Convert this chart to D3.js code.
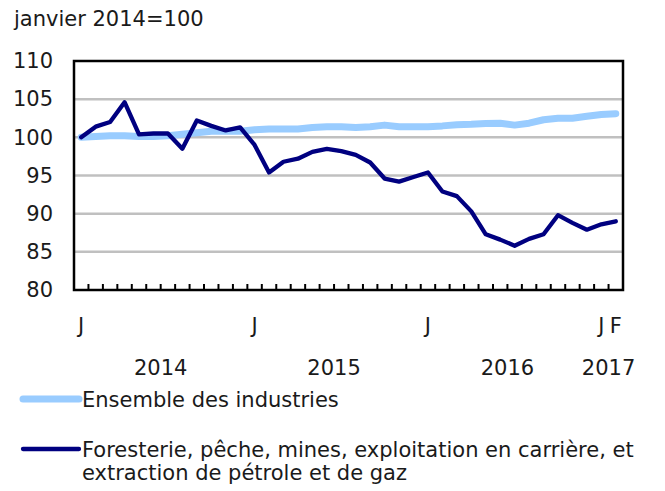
<!DOCTYPE html>
<meta charset="utf-8">
<html>
<head>
    <title>indice</title>
    <script src="https://cdn.jsdelivr.net/npm/d3@7"></script>
    <style>
        body { margin: 0; background: white; }
        text { font-family: "DejaVu Sans", Verdana, sans-serif; fill: #1a1a1a; }
    </style>
</head>
<body>
    <div id="chart"></div>
    <script>
        // monthly index, january 2014 to february 2017
        var ensemble = [100.0, 100.1, 100.2, 100.2, 100.1, 100.1, 100.2, 100.4, 100.6, 100.8,
                        100.8, 100.8, 101.0, 101.1, 101.1, 101.1, 101.3, 101.4, 101.4, 101.3,
                        101.4, 101.6, 101.4, 101.4, 101.4, 101.5, 101.65, 101.7, 101.8, 101.85,
                        101.6, 101.85, 102.3, 102.5, 102.5, 102.75, 103.0, 103.1];
        var foresterie = [100.0, 101.4, 102.0, 104.6, 100.4, 100.5, 100.5, 98.5, 102.2, 101.5,
                          100.9, 101.3, 99.0, 95.4, 96.8, 97.2, 98.1, 98.5, 98.2, 97.7,
                          96.7, 94.6, 94.2, 94.8, 95.4, 92.9, 92.3, 90.3, 87.3, 86.6,
                          85.8, 86.7, 87.3, 89.8, 88.8, 87.9, 88.6, 89.0];
        var yTicks = [80, 85, 90, 95, 100, 105, 110];
        var monthTicks = [0, 12, 24, 36, 37];
        var monthText = ["J", "J", "J", "J", "F"];
        var years = ["2014", "2015", "2016", "2017"];
        var yearFirst = [0, 12, 24, 36];
        var yearLast = [11, 23, 35, 37];
        var seriesNames = ["Ensemble des industries",
                           "Foresterie, pêche, mines, exploitation en carrière, et|extraction de pétrole et de gaz"];
        var colors = ["#99ccff", "#000080"];

        var width = 665, height = 491;
        var plot = {left: 74, right: 623, top: 61, bottom: 290};
        var fs = "21px";

        var svg = d3.select("#chart").append("svg")
            .attr("width", width)
            .attr("height", height);

        var x = d3.scaleBand()
            .domain(d3.range(ensemble.length))
            .range([plot.left, plot.right])
            .padding(0);
        var xc = function(i) { return x(i) + x.bandwidth() / 2; };
        var y = d3.scaleLinear()
            .domain([80, 110])
            .range([plot.bottom, plot.top]);

        svg.append("text")
            .attr("x", 14)
            .attr("y", 26)
            .attr("font-size", fs)
            .text("janvier 2014=100");

        // gridlines
        svg.append("g")
            .selectAll("line")
            .data(yTicks.slice(1, -1)).enter()
            .append("line")
            .attr("x1", plot.left)
            .attr("x2", plot.right)
            .attr("y1", function(d) { return y(d); })
            .attr("y2", function(d) { return y(d); })
            .attr("stroke", "#c0c0c0")
            .attr("stroke-width", 2.5);

        // y labels
        var yAxis = d3.axisLeft(y).tickValues(yTicks).tickSize(0).tickPadding(21);
        var gy = svg.append("g")
            .attr("transform", "translate(" + plot.left + ",0)")
            .call(yAxis);
        gy.select(".domain").remove();
        gy.selectAll("text")
            .attr("font-size", fs)
            .attr("font-family", "DejaVu Sans")
            .attr("fill", "#1a1a1a");

        // series lines
        var line = d3.line()
            .x(function(d, i) { return xc(i); })
            .y(function(d) { return y(d); });

        svg.append("path")
            .datum(ensemble)
            .attr("d", line)
            .attr("fill", "none")
            .attr("stroke", colors[0])
            .attr("stroke-width", 7)
            .attr("stroke-linejoin", "round")
            .attr("stroke-linecap", "round");

        svg.append("path")
            .datum(foresterie)
            .attr("d", line)
            .attr("fill", "none")
            .attr("stroke", colors[1])
            .attr("stroke-width", 4.3)
            .attr("stroke-linejoin", "round")
            .attr("stroke-linecap", "round");

        // frame
        svg.append("rect")
            .attr("x", plot.left)
            .attr("y", plot.top)
            .attr("width", plot.right - plot.left)
            .attr("height", plot.bottom - plot.top)
            .attr("fill", "none")
            .attr("stroke", "black")
            .attr("stroke-width", 2.5);

        // month ticks (between months)
        svg.append("g")
            .selectAll("line")
            .data(d3.range(1, ensemble.length)).enter()
            .append("line")
            .attr("x1", function(d) { return x(d); })
            .attr("x2", function(d) { return x(d); })
            .attr("y1", plot.bottom)
            .attr("y2", plot.bottom - 6)
            .attr("stroke", "black")
            .attr("stroke-width", 2);

        svg.append("g")
            .selectAll("text")
            .data(monthTicks).enter()
            .append("text")
            .attr("x", function(d) { return xc(d); })
            .attr("y", 333)
            .attr("text-anchor", "middle")
            .attr("font-size", fs)
            .text(function(d, i) { return monthText[i]; });

        svg.append("g")
            .selectAll("text")
            .data(years).enter()
            .append("text")
            .attr("x", function(d, i) { return (xc(yearFirst[i]) + xc(yearLast[i])) / 2; })
            .attr("y", 375)
            .attr("text-anchor", "middle")
            .attr("font-size", fs)
            .text(function(d) { return d; });

        // legend
        var legendY = [399, 449];
        var legend = svg.append("g");
        seriesNames.forEach(function(name, k) {
            legend.append("line")
                .attr("x1", 23)
                .attr("x2", 79)
                .attr("y1", legendY[k])
                .attr("y2", legendY[k])
                .attr("stroke", colors[k])
                .attr("stroke-width", k == 0 ? 7 : 4.3)
                .attr("stroke-linecap", "round");
            var t = legend.append("text")
                .attr("x", 82)
                .attr("y", legendY[k] + 8)
                .attr("font-size", fs);
            name.split("|").forEach(function(part, j) {
                t.append("tspan")
                    .attr("x", 82)
                    .attr("dy", j == 0 ? 0 : 23)
                    .text(part);
            });
        });
    </script>
</body>
</html>
